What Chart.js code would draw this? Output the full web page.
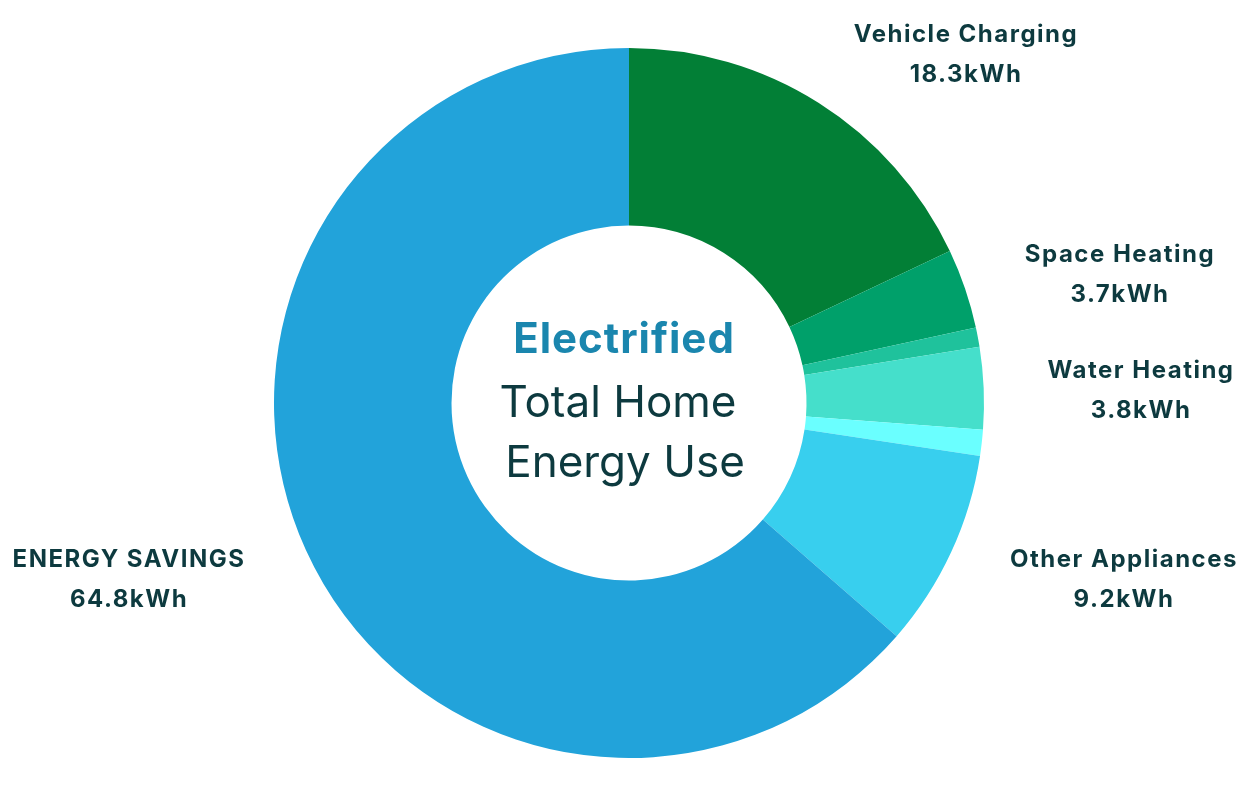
<!DOCTYPE html>
<html>
<head>
<meta charset="utf-8">
<script src="https://cdn.jsdelivr.net/npm/chart.js@4/dist/chart.umd.min.js"></script>
<style>
  html, body { margin: 0; padding: 0; background: #ffffff; }
  #wrap { width: 1250px; height: 800px; position: relative; }
</style>
</head>
<body>
<div id="wrap"><canvas id="c" width="1250" height="800"></canvas></div>
<script>
// ---- data ----
const categories = ["Vehicle Charging", "Space Heating", "", "Water Heating", "", "Other Appliances", "ENERGY SAVINGS"];
const values = [18.3, 3.7, 0.9, 3.8, 1.2, 9.2, 64.8];
const valueLabels = ["18.3kWh", "3.7kWh", "", "3.8kWh", "", "9.2kWh", "64.8kWh"];
const colors = ["#027F36", "#00A06A", "#1FC29C", "#45DFCB", "#6AFFFF", "#38CFEE", "#22A3DA"];
const centerTitle = "Electrified";
const centerLines = ["Total Home", "Energy Use"];

// label anchor offsets (px, baseline of first line) relative to the doughnut centre
const labelOffsets = [
  [337, -361], [491, -141], null, [512, -25], null, [495, 164], [-500, 164]
];

const textColor = "#0D3A3F";

const labelPlugin = {
  id: "labelPlugin",
  afterDraw(chart) {
    const ctx = chart.ctx;
    const meta = chart.getDatasetMeta(0);
    const arc = meta.data[0];
    const cx = arc.x, cy = arc.y;
    ctx.save();
    ctx.textAlign = "center";
    ctx.textBaseline = "alphabetic";
    ctx.fillStyle = textColor;
    ctx.font = "700 24px Inter, 'Open Sans', sans-serif";
    ctx.letterSpacing = "1.5px";
    categories.forEach((name, i) => {
      const off = labelOffsets[i];
      if (!name || !off) return;
      const x = cx + off[0], y = cy + off[1];
      ctx.fillText(name, x, y);
      ctx.fillText(valueLabels[i], x, y + 40);
    });
    // centre text
    ctx.fillStyle = "#1A86AE";
    ctx.letterSpacing = "1px";
    ctx.font = "700 42px Inter, 'Open Sans', sans-serif";
    ctx.fillText(centerTitle, cx - 5, cy - 50);
    ctx.fillStyle = textColor;
    ctx.letterSpacing = "0px";
    ctx.font = "400 44px Inter, 'Open Sans', sans-serif";
    ctx.fillText(centerLines[0], cx - 11, cy + 14);
    ctx.fillText(centerLines[1], cx - 4, cy + 74);
    ctx.restore();
  }
};

new Chart(document.getElementById("c"), {
  type: "doughnut",
  data: {
    labels: categories,
    datasets: [{
      data: values,
      backgroundColor: colors,
      borderWidth: 0,
      hoverOffset: 0
    }]
  },
  options: {
    responsive: false,
    animation: false,
    cutout: "50%",
    layout: { padding: { left: 274, right: 266, top: 48, bottom: 42 } },
    plugins: {
      legend: { display: false },
      tooltip: { enabled: false }
    }
  },
  plugins: [labelPlugin]
});
</script>
</body>
</html>
